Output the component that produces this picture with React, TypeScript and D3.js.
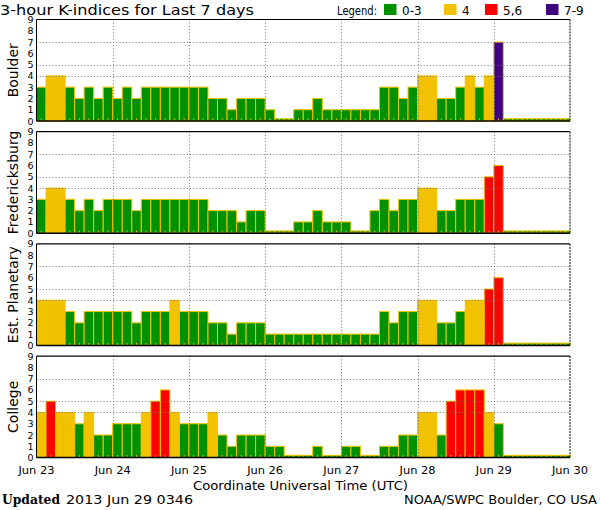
import React from 'react';
import * as d3 from 'd3';

// K-index values, 8 three-hour bins per day, Jun 23 .. Jun 29 (bins after the last reading are 0)
const stations = ['Boulder', 'Fredericksburg', 'Est. Planetary', 'College'];

const boulder = [
  3, 4, 4, 3, 2, 3, 2, 3,
  2, 3, 2, 3, 3, 3, 3, 3,
  3, 3, 2, 2, 1, 2, 2, 2,
  1, 0, 0, 1, 1, 2, 1, 1,
  1, 1, 1, 1, 3, 3, 2, 3,
  4, 4, 2, 2, 3, 4, 3, 4,
  7, 0, 0, 0, 0, 0, 0, 0,
];
const fredericksburg = [
  3, 4, 4, 3, 2, 3, 2, 3,
  3, 3, 2, 3, 3, 3, 3, 3,
  3, 3, 2, 2, 2, 1, 2, 2,
  0, 0, 0, 1, 1, 2, 1, 1,
  1, 0, 0, 2, 3, 2, 3, 3,
  4, 4, 2, 2, 3, 3, 3, 5,
  6, 0, 0, 0, 0, 0, 0, 0,
];
const planetary = [
  4, 4, 4, 3, 2, 3, 3, 3,
  3, 3, 2, 3, 3, 3, 4, 3,
  3, 3, 2, 2, 1, 2, 2, 2,
  1, 1, 1, 1, 1, 1, 1, 1,
  1, 1, 1, 1, 3, 2, 3, 3,
  4, 4, 2, 2, 3, 4, 4, 5,
  6, 0, 0, 0, 0, 0, 0, 0,
];
const college = [
  4, 5, 4, 4, 3, 4, 2, 2,
  3, 3, 3, 4, 5, 6, 4, 3,
  3, 3, 4, 2, 1, 2, 2, 2,
  1, 1, 0, 0, 0, 1, 0, 0,
  1, 1, 0, 0, 1, 1, 2, 2,
  4, 4, 2, 5, 6, 6, 6, 4,
  3, 0, 0, 0, 0, 0, 0, 0,
];
const series = [boulder, fredericksburg, planetary, college];

const dayLabels = ['Jun 23', 'Jun 24', 'Jun 25', 'Jun 26', 'Jun 27', 'Jun 28', 'Jun 29', 'Jun 30'];
const yTicks = [0, 1, 2, 3, 4, 5, 6, 7, 8, 9];
const gridLevels = [4, 5, 7];
const legendItems = [
  { label: '0-3', color: '#009100' },
  { label: '4', color: '#f2c200' },
  { label: '5,6', color: '#ff0000' },
  { label: '7-9', color: '#3f0080' },
];

const FONT = "'DejaVu Sans', sans-serif";
const OUTLINE = '#f2c200';

const kColor = (v: number) =>
  v <= 3 ? legendItems[0].color : v === 4 ? legendItems[1].color : v <= 6 ? legendItems[2].color : legendItems[3].color;

const Panel = ({ values, name, top, x }: { values: number[]; name: string; top: number; x: d3.ScaleLinear<number, number> }) => {
  const h = 101.5;
  const y = d3.scaleLinear().domain([0, 9]).range([top + h, top]);
  const [x0, x1] = x.range();
  const bw = x(1) - x(0);
  return (
    <g>
      {/* bars */}
      {values.map((v, i) => {
        const hv = Math.max(v, 0.2);
        return (
          <rect key={i} x={x(i)} y={y(hv)} width={bw} height={y(0) - y(hv)}
            fill={kColor(v)} stroke={OUTLINE} strokeWidth={1} />
        );
      })}
      {/* minor ticks */}
      {values.map((v, i) => (
        <line key={'t' + i} x1={x(i + 0.5)} x2={x(i + 0.5)} y1={y(0)} y2={y(0) - 2.5} stroke={OUTLINE} strokeWidth={1} />
      ))}
      {/* grid */}
      {gridLevels.map(g => (
        <line key={'g' + g} x1={x0} x2={x1} y1={Math.round(y(g)) + 0.5} y2={Math.round(y(g)) + 0.5}
          stroke="#777" strokeDasharray="1,2.2" />
      ))}
      {d3.range(1, 7).map(d => (
        <line key={'v' + d} x1={Math.round(x(d * 8)) + 0.5} x2={Math.round(x(d * 8)) + 0.5} y1={top} y2={top + h}
          stroke="#777" strokeDasharray="1,2.2" />
      ))}
      {/* frame */}
      <line x1={x0} x2={x1} y1={top} y2={top} stroke="#000" strokeWidth={1.2} />
      <line x1={x0} x2={x1} y1={top + h} y2={top + h} stroke="#000" strokeWidth={1.5} />
      <line x1={x0} x2={x0} y1={top} y2={top + h} stroke="#000" strokeWidth={1} />
      <line x1={x1} x2={x1} y1={top} y2={top + h} stroke="#000" strokeWidth={1} strokeDasharray="2,1" />
      {/* y labels */}
      {yTicks.map(t => (
        <text key={'y' + t} x={x0 - 3} y={y(t) + 3.5} textAnchor="end" fontSize={9.5} fontFamily={FONT}>{t}</text>
      ))}
      <text transform={`translate(18,${top + h / 2}) rotate(-90)`} textAnchor="middle" fontSize={14} fontFamily={FONT}>{name}</text>
    </g>
  );
};

export default function App() {
  const width = 600, height = 510;
  const x = d3.scaleLinear().domain([0, 56]).range([36.5, 570]);
  const tops = stations.map((_, i) => 19.5 + i * 112.2);
  const legendX = [384, 444, 485, 546];

  return (
    <svg width={width} height={height} style={{ position: 'absolute', left: 0, top: 0, background: '#fff' }}>
      <rect width={width} height={height} fill="#fff" />
      <text x={0} y={14.5} fontSize={14.5} fontFamily={FONT} textLength={254} lengthAdjust="spacingAndGlyphs">
        3-hour K-indices for Last 7 days
      </text>
      <text x={337} y={15} fontSize={11.5} fontFamily={FONT} textLength={40} lengthAdjust="spacingAndGlyphs">Legend:</text>
      {legendItems.map((d, i) => (
        <g key={d.label}>
          <rect x={legendX[i]} y={4} width={12.5} height={11} fill={d.color} />
          <text x={legendX[i] + 18} y={15} fontSize={12} fontFamily={FONT}>{d.label}</text>
        </g>
      ))}
      {series.map((vals, i) => (
        <Panel key={stations[i]} values={vals} name={stations[i]} top={tops[i]} x={x} />
      ))}
      {dayLabels.map((d, i) => (
        <text key={d} x={x(i * 8)} y={474} textAnchor="middle" fontSize={11} fontFamily={FONT}
          textLength={36} lengthAdjust="spacingAndGlyphs">{d}</text>
      ))}
      <text x={193} y={489.5} fontSize={12.5} fontFamily={FONT} textLength={215} lengthAdjust="spacingAndGlyphs">
        Coordinate Universal Time (UTC)
      </text>
      <text x={2} y={504} fontSize={13.5} fontFamily="'DejaVu Serif', serif" fontWeight="bold"
        textLength={58} lengthAdjust="spacingAndGlyphs">Updated</text>
      <text x={66} y={504} fontSize={13} fontFamily={FONT} textLength={127} lengthAdjust="spacingAndGlyphs">
        2013 Jun 29 0346
      </text>
      <text x={404} y={504} fontSize={12.5} fontFamily={FONT} textLength={193} lengthAdjust="spacingAndGlyphs">
        NOAA/SWPC Boulder, CO USA
      </text>
    </svg>
  );
}
